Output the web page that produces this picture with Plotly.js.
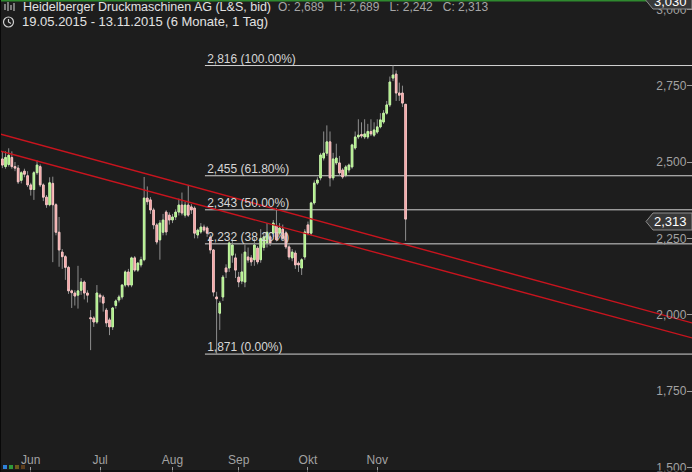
<!DOCTYPE html>
<html><head><meta charset="utf-8">
<script src="https://cdn.plot.ly/plotly-3.0.1.min.js"></script>
<style>html,body{margin:0;padding:0;background:#1d1d1d;overflow:hidden}#chart{width:692px;height:472px}</style>
</head><body><div id="chart"></div>
<script>
// ---- data ----
const openP = [2.510,2.485,2.492,2.515,2.485,2.480,2.440,2.470,2.455,2.425,2.410,2.465,2.485,2.425,2.385,2.360,2.430,2.360,2.270,2.205,2.190,2.155,2.078,2.071,2.064,2.080,2.107,2.071,1.990,1.989,1.976,2.064,2.058,2.015,1.983,1.960,2.030,2.048,2.058,2.097,2.140,2.097,2.186,2.146,2.163,2.180,2.382,2.376,2.343,2.294,2.245,2.270,2.336,2.326,2.310,2.320,2.336,2.359,2.326,2.359,2.353,2.349,2.261,2.271,2.287,2.284,2.254,2.212,2.058,2.005,2.058,2.153,2.153,2.195,2.186,2.123,2.110,2.107,2.189,2.186,2.180,2.218,2.180,2.220,2.235,2.255,2.267,2.290,2.267,2.280,2.267,2.222,2.186,2.202,2.169,2.153,2.189,2.294,2.267,2.366,2.431,2.448,2.513,2.529,2.566,2.448,2.497,2.497,2.474,2.457,2.474,2.484,2.546,2.582,2.590,2.582,2.582,2.600,2.588,2.598,2.615,2.631,2.660,2.687,2.775,2.788,2.726,2.726,2.689];
const highP = [2.535,2.535,2.545,2.535,2.500,2.490,2.470,2.478,2.470,2.432,2.470,2.505,2.492,2.430,2.392,2.450,2.452,2.365,2.320,2.215,2.195,2.160,2.082,2.080,2.160,2.120,2.112,2.080,2.015,1.995,2.097,2.070,2.065,2.022,1.990,2.025,2.050,2.065,2.100,2.145,2.150,2.190,2.192,2.172,2.190,2.451,2.420,2.385,2.350,2.300,2.310,2.330,2.342,2.335,2.330,2.345,2.380,2.400,2.370,2.425,2.362,2.355,2.282,2.300,2.295,2.290,2.262,2.215,2.075,2.045,2.130,2.165,2.240,2.245,2.200,2.140,2.200,2.230,2.220,2.195,2.250,2.225,2.280,2.270,2.300,2.262,2.310,2.350,2.300,2.295,2.275,2.230,2.215,2.210,2.175,2.185,2.280,2.305,2.370,2.440,2.450,2.530,2.600,2.620,2.600,2.530,2.560,2.520,2.480,2.490,2.495,2.560,2.600,2.640,2.630,2.640,2.625,2.640,2.630,2.640,2.660,2.670,2.700,2.780,2.816,2.800,2.760,2.750,2.689];
const lowP = [2.480,2.478,2.485,2.478,2.470,2.428,2.430,2.450,2.418,2.390,2.376,2.458,2.418,2.372,2.350,2.355,2.172,2.260,2.157,2.150,2.114,2.068,2.022,2.030,2.020,2.065,2.050,2.040,1.884,1.960,1.970,2.040,2.010,1.960,1.933,1.950,2.020,2.040,2.050,2.090,2.090,2.090,2.140,2.140,2.155,2.175,2.360,2.330,2.280,2.230,2.180,2.260,2.260,2.295,2.300,2.310,2.325,2.325,2.318,2.320,2.330,2.250,2.250,2.265,2.270,2.255,2.200,2.060,1.871,1.950,2.045,2.120,2.140,2.170,2.120,2.090,2.100,2.090,2.170,2.160,2.160,2.165,2.170,2.210,2.220,2.225,2.255,2.240,2.260,2.245,2.215,2.180,2.175,2.150,2.140,2.130,2.180,2.260,2.260,2.360,2.425,2.440,2.505,2.520,2.420,2.440,2.490,2.455,2.445,2.450,2.465,2.478,2.540,2.575,2.578,2.575,2.575,2.585,2.582,2.592,2.610,2.625,2.655,2.680,2.765,2.700,2.700,2.680,2.242];
const closeP = [2.490,2.515,2.522,2.485,2.480,2.435,2.465,2.460,2.425,2.410,2.465,2.490,2.425,2.385,2.360,2.432,2.360,2.270,2.212,2.190,2.155,2.078,2.072,2.061,2.078,2.107,2.071,2.064,1.987,1.976,2.071,2.058,2.038,1.973,1.960,2.022,2.045,2.058,2.097,2.140,2.097,2.186,2.146,2.169,2.180,2.382,2.370,2.343,2.294,2.238,2.300,2.310,2.271,2.310,2.320,2.336,2.359,2.333,2.359,2.326,2.343,2.267,2.277,2.287,2.277,2.267,2.212,2.074,2.052,2.038,2.123,2.140,2.235,2.228,2.146,2.107,2.140,2.205,2.179,2.173,2.228,2.173,2.250,2.255,2.270,2.235,2.300,2.245,2.284,2.250,2.222,2.189,2.205,2.163,2.163,2.180,2.271,2.267,2.366,2.431,2.441,2.523,2.529,2.566,2.448,2.510,2.513,2.464,2.451,2.484,2.490,2.556,2.582,2.588,2.585,2.592,2.600,2.592,2.605,2.615,2.638,2.660,2.687,2.762,2.785,2.726,2.719,2.693,2.313];

// trading days 19.05.2015 - 13.11.2015 (weekdays)
const dates = [];
for (let d = new Date(Date.UTC(2015,4,19)); d <= new Date(Date.UTC(2015,10,13)); d.setUTCDate(d.getUTCDate()+1)) {
  const wd = d.getUTCDay(); if (wd !== 0 && wd !== 6) dates.push(d.toISOString().slice(0,10));
}
const monthKeys = ['2015-06','2015-07','2015-08','2015-09','2015-10','2015-11'];
const monthLabels = ['Jun','Jul','Aug','Sep','Okt','Nov'];
const yTickVals = [1.5,1.75,2.0,2.25,2.5,2.75,3.0];
const fibRatios = [1, 0.618, 0.5, 0.382, 0];
const fibStartIdx = 64.3;
const fibLabelIdx = 65;
const trendUpperX = [-0.76, 218.92], trendUpperY = [2.592, 1.973];
const trendLowerX = [-0.76, 218.92], trendLowerY = [2.536, 1.924];
const xRange = [-0.76, 218.92], yRange = [1.4848, 3.0306];
const axisTopLabel = 3.030;

// ---- derived ----
const idx = dates.map((d,i)=>i);
const tickIdx = monthKeys.map(k => dates.findIndex(d => d.startsWith(k)));
const fibHigh = Math.max(...highP), fibLow = Math.min(...lowP);
const fibLevels = fibRatios.map(r => fibLow + (fibHigh - fibLow) * r);
const de = (v, n) => v.toFixed(n).replace('.', ',');
const fibText = fibLevels.map((v,i)=> de(v,3) + ' (' + (fibRatios[i]*100).toFixed(2) + '%)');
const bodyHi = openP.map((o,i)=>Math.max(o, closeP[i]));
const bodyLo = openP.map((o,i)=>Math.min(o, closeP[i]));
const last = dates.length - 1;

const W = 692, H = 472;
const px = x => x / W, py = y => 1 - y / H;

const GREEN = '#9fe873', GREEN_L = '#c4f7a4', RED = '#f29494', RED_L = '#f9c4c4', WICK = '#8e8e8e';

const traces = [
  {type:'scatter', mode:'lines', x:trendUpperX, y:trendUpperY, line:{color:'#c8141e', width:1.4}, hoverinfo:'skip', cliponaxis:true},
  {type:'scatter', mode:'lines', x:trendLowerX, y:trendLowerY, line:{color:'#c8141e', width:1.4}, hoverinfo:'skip', cliponaxis:true},
  {type:'scatter', mode:'text', x:fibLevels.map(()=>fibLabelIdx), y:fibLevels, text:fibText, textposition:'top right',
   textfont:{family:'Liberation Sans, Arial, sans-serif', size:12, color:'#d6d6d6'}, hoverinfo:'skip', cliponaxis:false},
  {type:'candlestick', x:idx, open:openP, high:highP, low:lowP, close:closeP, whiskerwidth:0,
   increasing:{line:{color:WICK, width:1}, fillcolor:GREEN}, decreasing:{line:{color:WICK, width:1}, fillcolor:RED}, hoverinfo:'skip'},
  {type:'candlestick', x:idx, open:openP, high:bodyHi, low:bodyLo, close:closeP, whiskerwidth:0,
   increasing:{line:{color:GREEN_L, width:1}, fillcolor:GREEN}, decreasing:{line:{color:RED_L, width:1}, fillcolor:RED}, hoverinfo:'skip'}
];

const shapes = fibLevels.map(v => ({type:'line', xref:'x', yref:'y', x0:fibStartIdx, x1:xRange[1], y0:v, y1:v, line:{color:'#d2d2d2', width:1}, layer:'below'}));
// top green strip
shapes.push({type:'line', xref:'paper', yref:'paper', x0:0, x1:px(648), y0:py(0.5), y1:py(0.5), line:{color:'#2f8a2f', width:2}});
// left / bottom dark border
shapes.push({type:'line', xref:'paper', yref:'paper', x0:px(0.5), x1:px(0.5), y0:0, y1:1, line:{color:'#080808', width:1}});
shapes.push({type:'line', xref:'paper', yref:'paper', x0:0, x1:1, y0:py(471), y1:py(471), line:{color:'#080808', width:1}});
// price tags
function tag(yc){
  const p = `M ${px(646)} ${py(yc)} L ${px(653)} ${py(yc-8.5)} L ${px(692)} ${py(yc-8.5)} L ${px(692)} ${py(yc+8.5)} L ${px(653)} ${py(yc+8.5)} Z`;
  return {type:'path', xref:'paper', yref:'paper', path:p, fillcolor:'#383838', line:{color:'#8c8c8c', width:1}};
}
shapes.push(tag(221.5));
shapes.push(tag(0.5));
// clock icon
shapes.push({type:'circle', xref:'paper', yref:'paper', x0:px(3.5), x1:px(13.5), y0:py(27), y1:py(17), line:{color:'#cfcfcf', width:1.2}});
shapes.push({type:'path', xref:'paper', yref:'paper', path:`M ${px(8.5)} ${py(19)} L ${px(8.5)} ${py(22)} L ${px(11)} ${py(23.5)}`, line:{color:'#cfcfcf', width:1.2}});
// chart icon (bars)
[[5,4,10],[8,2,11],[11,5,10],[14,3,11]].forEach(b=>shapes.push({type:'line', xref:'paper', yref:'paper', x0:px(b[0]), x1:px(b[0]), y0:py(b[1]), y1:py(b[2]), line:{color:'#bdbdbd', width:1.2}}));
// bottom-left colour squares
['#2f80d8','#2f9a3a','#6d5b1c','#5c3d1c'].forEach((c,i)=>shapes.push({type:'rect', xref:'paper', yref:'paper', x0:px(3+i*6), x1:px(7+i*6), y0:py(469), y1:py(465), fillcolor:c, line:{width:0}}));

const FONT = 'Liberation Sans, Arial, sans-serif';
const SEP = '&nbsp;&nbsp; ';
const annotations = [
  {xref:'paper', yref:'paper', x:px(21), y:py(6.5), xanchor:'left', yanchor:'middle', showarrow:false,
   text:'Heidelberger Druckmaschinen AG (L&amp;S, bid)',
   font:{family:FONT, size:12.5, color:'#e2e2e2'}},
  {xref:'paper', yref:'paper', x:px(276), y:py(6.5), xanchor:'left', yanchor:'middle', showarrow:false,
   text:'O: ' + de(openP[last],3) + SEP + 'H: ' + de(highP[last],3) + SEP + 'L: ' + de(lowP[last],3) + SEP + 'C: ' + de(closeP[last],3),
   font:{family:FONT, size:12, color:'#a6a6a6'}},
  {xref:'paper', yref:'paper', x:px(20), y:py(22), xanchor:'left', yanchor:'middle', showarrow:false,
   text: dates[0].split('-').reverse().join('.') + ' - ' + dates[last].split('-').reverse().join('.') + ' (6 Monate, 1 Tag)',
   font:{family:FONT, size:13, color:'#e2e2e2'}},
  {xref:'paper', yref:'paper', x:px(670), y:py(221.5), xanchor:'center', yanchor:'middle', showarrow:false,
   text: de(closeP[last],3), font:{family:FONT, size:13, color:'#ffffff'}},
  {xref:'paper', yref:'paper', x:px(670), y:py(1.5), xanchor:'center', yanchor:'middle', showarrow:false,
   text: de(axisTopLabel,3), font:{family:FONT, size:13, color:'#ffffff'}}
];

const layout = {
  width:W, height:H, margin:{l:0, r:0, t:0, b:0, pad:0},
  paper_bgcolor:'#1d1d1d', plot_bgcolor:'#1d1d1d', showlegend:false, separators:',.', hovermode:false,
  xaxis:{type:'linear', range:xRange, tickvals:tickIdx, ticktext:monthLabels, ticks:'inside', ticklen:5, tickcolor:'#9a9a9a',
         ticklabelposition:'inside', ticklabeloverflow:'allow', showgrid:false, zeroline:false, showline:false,
         tickfont:{family:FONT, size:12, color:'#a2a2a2'}, rangeslider:{visible:false}, fixedrange:true},
  yaxis:{side:'right', range:yRange, tickvals:yTickVals, tickformat:'.3f', ticks:'inside', ticklen:5, tickcolor:'#9a9a9a',
         ticklabelposition:'inside', ticklabeloverflow:'allow', showgrid:false, zeroline:false, showline:false,
         tickfont:{family:FONT, size:12, color:'#a2a2a2'}, fixedrange:true},
  shapes, annotations
};
Plotly.newPlot('chart', traces, layout, {displayModeBar:false, staticPlot:true});
</script>
</body></html>
